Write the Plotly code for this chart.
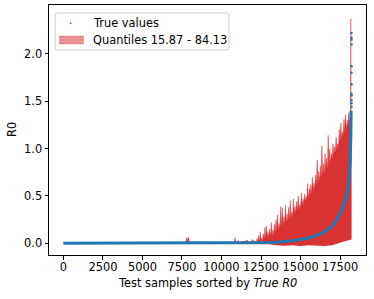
import plotly.graph_objects as go

# ---- data ----
band_x = [0, 7750, 7800, 7850, 7900, 7950, 8000, 10800, 10850, 10900, 11050, 11100,
          11650, 11700, 11800, 11850, 11950,
          12000, 12050, 12100, 12150, 12200, 12250, 12300, 12350, 12400, 12450,
          12500, 12550, 12600, 12650, 12700, 12750, 12800, 12850, 12900, 12950,
          13000, 13050, 13100, 13150, 13200, 13250, 13300, 13350, 13400, 13450,
          13500, 13550, 13600, 13650, 13700, 13750, 13800, 13850, 13900, 13950,
          14000, 14050, 14100, 14150, 14200, 14250, 14300, 14350, 14400, 14450,
          14500, 14550, 14600, 14650, 14700, 14750, 14800, 14850, 14900, 14950,
          15000, 15050, 15100, 15150, 15200, 15250, 15300, 15350, 15400, 15450,
          15500, 15550, 15600, 15650, 15700, 15750, 15800, 15850, 15900, 15950,
          16000, 16050, 16100, 16150, 16200, 16250, 16300, 16350, 16400, 16450,
          16500, 16550, 16600, 16650, 16700, 16750, 16800, 16850, 16900, 16950,
          17000, 17050, 17100, 17150, 17200, 17250, 17300, 17350, 17400, 17450,
          17500, 17550, 17600, 17650, 17700, 17750, 17800, 17850, 17900, 17950,
          18000, 18050, 18100, 18150, 18170, 18180, 18200, 18230]
band_upper = [0.005, 0.005, 0.06, 0.02, 0.065, 0.03, 0.005, 0.005, 0.06, 0.005, 0.03, 0.005,
              0.03, 0.005, 0.02, 0.005, 0.04,
              0.01, 0.03, 0.008, 0.02, 0.01, 0.05, 0.012, 0.08, 0.015, 0.12,
              0.02, 0.06, 0.03, 0.10, 0.04, 0.17, 0.045, 0.18, 0.05, 0.12,
              0.06, 0.15, 0.07, 0.22, 0.08, 0.14, 0.09, 0.20, 0.11, 0.25,
              0.12, 0.30, 0.13, 0.21, 0.15, 0.39, 0.16, 0.37, 0.18, 0.28,
              0.20, 0.40, 0.21, 0.31, 0.23, 0.38, 0.24, 0.45, 0.26, 0.33,
              0.28, 0.47, 0.30, 0.39, 0.32, 0.44, 0.34, 0.50, 0.35, 0.41,
              0.37, 0.53, 0.39, 0.47, 0.41, 0.52, 0.43, 0.50, 0.45, 0.63,
              0.47, 0.58, 0.50, 0.62, 0.52, 0.70, 0.55, 0.64, 0.57, 0.72,
              0.60, 0.88, 0.62, 0.76, 0.65, 0.82, 0.67, 1.03, 0.70, 0.84,
              0.72, 0.95, 0.75, 0.90, 0.78, 1.14, 0.81, 1.00, 0.85, 0.95,
              0.88, 1.05, 0.92, 1.02, 0.95, 1.12, 0.98, 1.05, 1.02, 1.20,
              1.06, 1.27, 1.10, 1.18, 1.14, 1.31, 1.17, 1.36, 1.20, 1.30,
              1.23, 1.38, 1.26, 1.40, 1.25, 2.37, 1.32, 1.35]

lower_x = [0, 12500, 13000, 13500, 14000, 14500, 15000, 15500, 16000, 16500,
           17000, 17500, 17800, 18000, 18230]
lower_vals = [-0.004, -0.005, -0.01, -0.02, -0.025, -0.02, -0.03, -0.02, -0.025, -0.03,
              -0.02, 0.0, 0.02, 0.03, 0.04]

true_x = [0, 12000, 12500, 13000, 13500, 14000, 14500, 15000, 15500, 16000, 16500,
          17000, 17300, 17600, 17800, 17950, 18050, 18100, 18150, 18180, 18200]
true_y = [0.0, 0.001, 0.003, 0.007, 0.012, 0.018, 0.027, 0.040, 0.055, 0.08, 0.12,
          0.18, 0.25, 0.34, 0.43, 0.52, 0.62, 0.72, 0.90, 1.12, 1.40]

outlier_x = [18225] * 12
outlier_y = [1.44, 1.48, 1.51, 1.56, 1.58, 1.68, 1.80, 1.87, 2.10, 2.15, 2.17, 2.22]

x_ticks = [0, 2500, 5000, 7500, 10000, 12500, 15000, 17500]
y_ticks = [0.0, 0.5, 1.0, 1.5, 2.0]

legend_labels = ["True values", "Quantiles 15.87 - 84.13"]

BLUE = "#1f77b4"
FONT = "DejaVu Sans"
FS = 11.4
W, H = 374, 299
ML, MR, MT, MB = 49, 8, 5, 44
PW, PH = W - ML - MR, H - MT - MB


def px(xp):
    return (xp - ML) / PW


def py(yp):
    return 1 - (yp - MT) / PH


fig = go.Figure()
fig.add_trace(go.Scatter(x=lower_x, y=lower_vals, mode="lines",
                         line=dict(width=0, color="rgba(214,39,40,0.6)"),
                         showlegend=False, hoverinfo="skip"))
fig.add_trace(go.Scatter(x=band_x, y=band_upper, mode="lines", fill="tonexty",
                         fillcolor="rgba(214,39,40,0.95)",
                         line=dict(width=0.7, color="rgba(214,39,40,0.6)"),
                         name=legend_labels[1], showlegend=False))
fig.add_trace(go.Scatter(x=true_x, y=true_y, mode="lines",
                         line=dict(width=3, color=BLUE),
                         name=legend_labels[0], showlegend=False))
fig.add_trace(go.Scatter(x=outlier_x, y=outlier_y, mode="markers",
                         marker=dict(size=2.5, color=BLUE),
                         name=legend_labels[0], showlegend=False))

axis_common = dict(showline=True, linecolor="black", linewidth=1, mirror=True,
                   ticks="outside", ticklen=3.5, tickcolor="black", tickwidth=1,
                   showgrid=False, zeroline=False, automargin=False,
                   tickfont=dict(family=FONT, size=FS, color="black"))

fig.update_xaxes(range=[-911, 19141], tickvals=x_ticks, ticklabelstandoff=-2,
                 ticktext=[str(v) for v in x_ticks], **axis_common)
fig.update_yaxes(range=[-0.124, 2.517], tickvals=y_ticks,
                 ticktext=[f"{v:.1f}" for v in y_ticks], **axis_common)

fig.add_annotation(text="Test samples sorted by <i>True R0</i>", xref="paper", yref="paper",
                   x=0.5, y=py(283), showarrow=False, yanchor="middle",
                   font=dict(family=FONT, size=FS, color="black"))
fig.add_annotation(text="R0", xref="paper", yref="paper", textangle=-90,
                   x=px(12), y=0.5, showarrow=False, xanchor="center",
                   font=dict(family=FONT, size=FS, color="black"))

# ---- legend drawn like matplotlib's ----
x0, x1, y0, y1, r = 55, 229, 13, 50, 2.5
path = (f"M {px(x0 + r)},{py(y0)} L {px(x1 - r)},{py(y0)} "
        f"Q {px(x1)},{py(y0)} {px(x1)},{py(y0 + r)} L {px(x1)},{py(y1 - r)} "
        f"Q {px(x1)},{py(y1)} {px(x1 - r)},{py(y1)} L {px(x0 + r)},{py(y1)} "
        f"Q {px(x0)},{py(y1)} {px(x0)},{py(y1 - r)} L {px(x0)},{py(y0 + r)} "
        f"Q {px(x0)},{py(y0)} {px(x0 + r)},{py(y0)} Z")
fig.add_shape(type="path", path=path, xref="paper", yref="paper",
              line=dict(color="#cccccc", width=1), fillcolor="rgba(255,255,255,0.8)",
              layer="above")
fig.add_shape(type="circle", xref="paper", yref="paper",
              x0=px(69.8), x1=px(71.6), y0=py(22.4), y1=py(24.2),
              line=dict(width=0), fillcolor=BLUE, layer="above")
fig.add_shape(type="rect", xref="paper", yref="paper",
              x0=px(59.5), x1=px(83.5), y0=py(36), y1=py(44),
              line=dict(width=0.6, color="rgba(214,39,40,0.5)"),
              fillcolor="rgba(214,39,40,0.5)", layer="above")
for label, yc in zip(legend_labels, [23.3, 40]):
    fig.add_annotation(text=label, xref="paper", yref="paper", x=px(90.5), y=py(yc),
                       xanchor="left", yanchor="middle", showarrow=False,
                       font=dict(family=FONT, size=FS, color="black"))

fig.update_layout(
    width=W, height=H,
    margin=dict(l=ML, r=MR, t=MT, b=MB),
    paper_bgcolor="white", plot_bgcolor="white",
    font=dict(family=FONT, size=FS, color="black"),
    showlegend=False,
)

fig.write_html("out.html", config={"displayModeBar": False},
               post_script="document.body.style.margin='0';document.body.style.overflow='hidden';")
